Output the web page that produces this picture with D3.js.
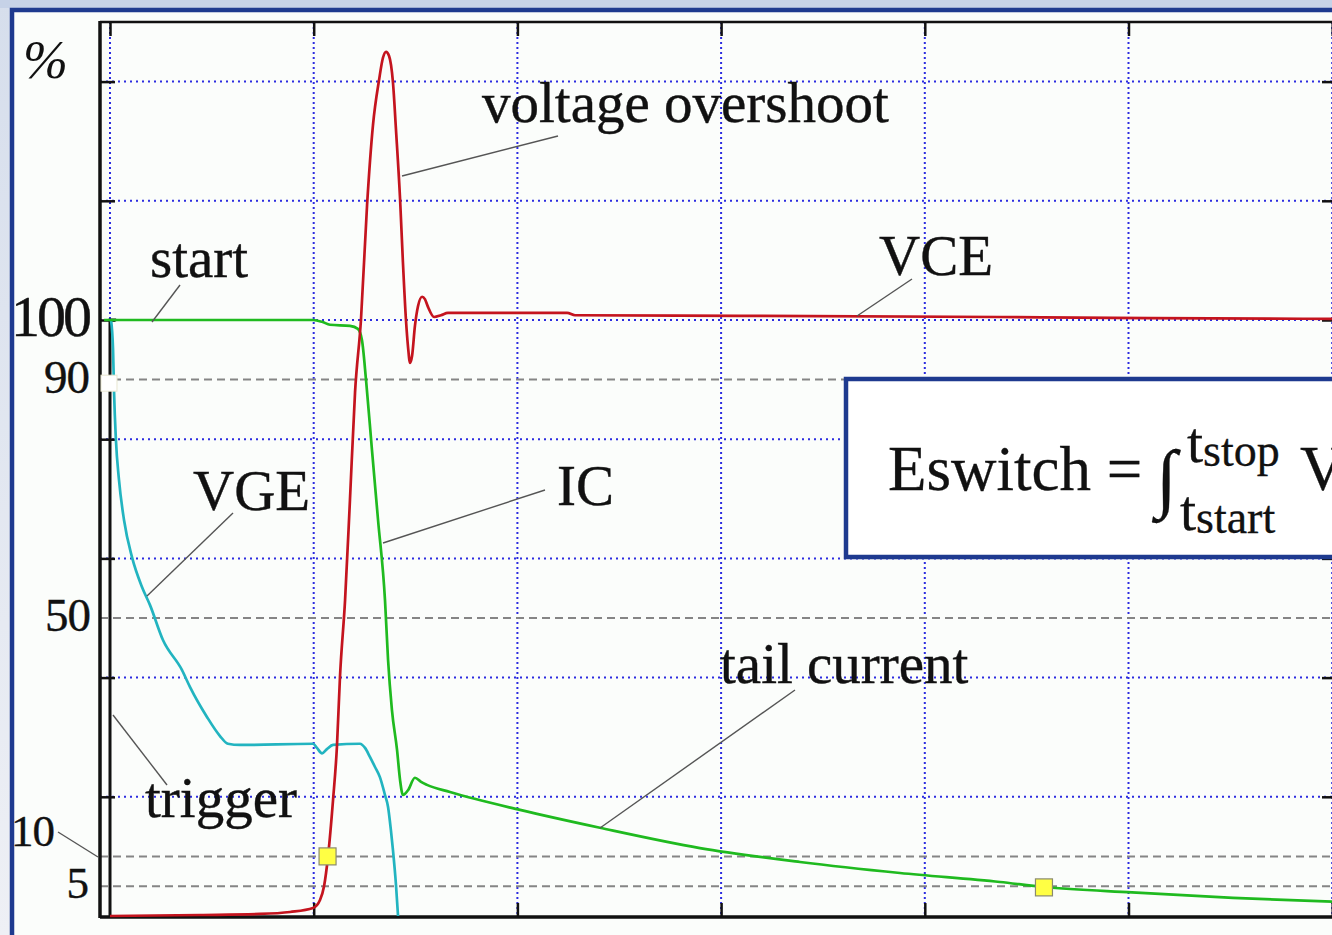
<!DOCTYPE html>
<html><head><meta charset="utf-8">
<script src="https://cdn.jsdelivr.net/npm/d3@7"></script>
<style>html,body{margin:0;padding:0;overflow:hidden;background:#e1e6f0}svg{display:block}</style>
</head><body><svg id="c" width="1332" height="935"></svg>
<script>
// ---------- data ----------
const gridTimes = [0, 1, 2, 3, 4, 5, 6];
const gridLevels = [20, 40, 60, 80, 100, 120, 140];
const refLevels = [90, 50, 10, 5];
const yTickValues = [100, 90, 50, 10, 5];
const yTickLabels = ["100", "90", "50", "10", "5"];

const vceTime  = [0, 0.442, 0.736, 0.884, 0.997, 1.031, 1.051, 1.070, 1.095, 1.114, 1.129, 1.154, 1.178, 1.203, 1.232, 1.262, 1.291, 1.321, 1.340, 1.355, 1.370, 1.389, 1.404, 1.424, 1.438, 1.453, 1.463, 1.473, 1.483, 1.497, 1.512, 1.532, 1.546, 1.561, 1.591, 1.625, 1.659, 2.244, 2.283, 3.093, 4.369, 5.106, 6.038];
const vceValue = [0, 0.17, 0.34, 0.67, 1.34, 2.68, 5.03, 9.9, 19.5, 28.4, 40.1, 53.0, 69.8, 87.9, 100.0, 119.3, 132.7, 140.3, 144.0, 145.0, 144.3, 139.9, 131.9, 120.3, 109.7, 100.0, 95.5, 92.8, 94.0, 99.0, 102.3, 103.9, 103.5, 102.2, 100.5, 100.8, 101.2, 101.2, 100.8, 100.7, 100.5, 100.3, 100.2];

const icTime  = [-0.029, 0.997, 1.041, 1.080, 1.178, 1.217, 1.237, 1.257, 1.286, 1.316, 1.350, 1.365, 1.384, 1.409, 1.424, 1.438, 1.463, 1.497, 1.527, 1.556, 1.669, 2.013, 2.405, 2.896, 3.387, 3.878, 4.369, 4.585, 5.017, 5.513, 6.038];
const icValue = [100, 100, 99.7, 99.2, 99.0, 98.5, 96.6, 89.9, 78.2, 66.4, 53.0, 43.0, 34.6, 27.9, 22.8, 20.3, 21.1, 23.2, 22.5, 22.0, 20.8, 17.8, 14.8, 11.4, 9.06, 7.21, 5.70, 4.87, 3.95, 3.05, 2.35];

const vgeTime  = [0.005, 0.015, 0.020, 0.029, 0.044, 0.069, 0.108, 0.157, 0.196, 0.260, 0.353, 0.393, 0.476, 0.540, 0.579, 0.638, 0.997, 1.016, 1.041, 1.065, 1.095, 1.227, 1.252, 1.276, 1.301, 1.325, 1.350, 1.365, 1.379, 1.389, 1.404, 1.414];
const vgeValue = [100, 95.0, 87.8, 79.9, 73.2, 66.4, 60.2, 55.2, 52.2, 46.3, 41.3, 38.4, 33.4, 30.2, 28.9, 28.7, 28.9, 28.2, 27.3, 28.0, 28.7, 28.9, 28.2, 26.7, 25.0, 23.3, 20.3, 18.3, 14.4, 11.1, 5.2, 0];

const triggerTime  = [0, 0, 0.03];
const triggerValue = [0, 100, 100];

const markerTime  = [1.068, 4.585];
const markerValue = [10, 4.8];
const startMarkerTime = [-0.005];
const startMarkerValue = [89.4];

const annotationTexts = ["start", "voltage overshoot", "VCE", "VGE", "IC", "tail current", "trigger"];

// ---------- drawing ----------
const svg = d3.select("#c");
const W = 1332, H = 935;
const FONT = "'Liberation Serif','Times New Roman',serif";

// background & frame
const defs = svg.append("defs");
const lg = defs.append("linearGradient").attr("id", "bg").attr("x1", 0).attr("y1", 0).attr("x2", 0).attr("y2", 1);
lg.append("stop").attr("offset", 0).attr("stop-color", "#d6deec");
lg.append("stop").attr("offset", 1).attr("stop-color", "#eef0f5");
svg.append("rect").attr("width", W).attr("height", H).attr("fill", "url(#bg)");
svg.append("rect").attr("width", W).attr("height", 8).attr("fill", "#c6d2e7");
svg.append("rect").attr("x", 12).attr("y", 10).attr("width", 1500).attr("height", 1200)
  .attr("fill", "#fbfdfb").attr("stroke", "#1e3a8f").attr("stroke-width", 4.5);

const x = d3.scaleLinear().domain([0, 6]).range([110, 110 + 6 * 203.7]);
const y = d3.scaleLinear().domain([0, 150]).range([916, 22]);
const xLeft = 100, xRight = 1337, yTop = 22, yBot = 917;

// grid
const grid = svg.append("g");
grid.selectAll(".hg").data(gridLevels).join("line")
  .attr("x1", xLeft).attr("x2", xRight).attr("y1", d => y(d)).attr("y2", d => y(d))
  .attr("stroke", "#2c2ce0").attr("stroke-width", 2).attr("stroke-dasharray", "2,4");
grid.selectAll(".vg").data(gridTimes).join("line")
  .attr("x1", d => x(d)).attr("x2", d => x(d)).attr("y1", yTop).attr("y2", yBot)
  .attr("stroke", "#2c2ce0").attr("stroke-width", 2).attr("stroke-dasharray", "2,3");
grid.selectAll(".rg").data(refLevels).join("line")
  .attr("x1", xLeft).attr("x2", xRight).attr("y1", d => y(d)).attr("y2", d => y(d))
  .attr("stroke", "#858585").attr("stroke-width", 2).attr("stroke-dasharray", "8,5");

// axes
const axStyle = g => { g.selectAll("path,line").attr("stroke", "#111"); g.selectAll("text").remove(); g.select(".domain").remove(); };
svg.append("g").attr("transform", `translate(0,${yTop})`)
  .call(d3.axisBottom(x).tickValues(gridTimes).tickSize(14).tickSizeOuter(0))
  .call(axStyle).call(g => g.selectAll("line").attr("stroke-width", 2.5));
svg.append("g").attr("transform", `translate(0,${yBot})`)
  .call(d3.axisTop(x).tickValues(gridTimes.slice(1)).tickSize(14).tickSizeOuter(0))
  .call(axStyle).call(g => g.selectAll("line").attr("stroke-width", 2.5));
svg.append("g").attr("transform", `translate(${xLeft},0)`)
  .call(d3.axisRight(y).tickValues(gridLevels).tickSize(15).tickSizeOuter(0))
  .call(axStyle).call(g => g.selectAll("line").attr("stroke-width", 2.5));
svg.append("g").attr("transform", `translate(${xRight},0)`)
  .call(d3.axisLeft(y).tickValues(gridLevels).tickSize(15).tickSizeOuter(0))
  .call(axStyle).call(g => g.selectAll("line").attr("stroke-width", 2.5));
svg.append("line").attr("x1", xLeft).attr("x2", W).attr("y1", yTop).attr("y2", yTop).attr("stroke", "#111").attr("stroke-width", 2.5);
svg.append("line").attr("x1", xLeft).attr("x2", W).attr("y1", yBot).attr("y2", yBot).attr("stroke", "#111").attr("stroke-width", 3.5);
svg.append("line").attr("x1", xLeft).attr("x2", xLeft).attr("y1", yTop - 1).attr("y2", yBot + 1).attr("stroke", "#111").attr("stroke-width", 3.5);

// y tick labels
const tickFont = [58, 47, 47, 45, 45];
const tickX = [89, 89, 90, 54, 88];
const tickDy = [16, 13, 13, -10, 12];
svg.append("g").selectAll("text").data(yTickValues).join("text")
  .attr("x", (d, i) => tickX[i]).attr("y", (d, i) => y(d) + tickDy[i])
  .attr("text-anchor", "end").attr("font-family", FONT).attr("font-size", (d, i) => tickFont[i])
  .attr("fill", "#111").attr("stroke", "#111").attr("stroke-width", 0.4)
  .attr("letter-spacing", (d, i) => i === 0 ? -3 : -1)
  .text((d, i) => yTickLabels[i]);
svg.append("text").attr("x", 23).attr("y", 78).attr("font-family", FONT).attr("font-size", 54)
  .attr("font-style", "italic").attr("fill", "#111").text("%");

// series
const line = d3.line().x(d => x(d[0])).y(d => y(d[1])).curve(d3.curveMonotoneX);
const zip = (a, b) => a.map((t, i) => [t, b[i]]);
const plot = svg.append("g");
plot.append("path").datum(zip(triggerTime, triggerValue))
  .attr("d", d3.line().x(d => x(d[0])).y(d => y(d[1]))).attr("fill", "none").attr("stroke", "#111").attr("stroke-width", 3);
plot.append("path").datum(zip(vgeTime, vgeValue)).attr("d", line)
  .attr("fill", "none").attr("stroke", "#22b4c0").attr("stroke-width", 2.7);
plot.append("path").datum(zip(icTime, icValue)).attr("d", line)
  .attr("fill", "none").attr("stroke", "#1fba1f").attr("stroke-width", 2.7);
plot.append("path").datum(zip(vceTime, vceValue)).attr("d", line)
  .attr("fill", "none").attr("stroke", "#c4141e").attr("stroke-width", 2.7);

// markers
plot.selectAll(".mk").data(zip(markerTime, markerValue)).join("rect")
  .attr("x", d => x(d[0]) - 8.5).attr("y", d => y(d[1]) - 8.5).attr("width", 17).attr("height", 17)
  .attr("fill", "#ffff44").attr("stroke", "#8a8a70").attr("stroke-width", 1.2);
plot.selectAll(".wm").data(zip(startMarkerTime, startMarkerValue)).join("rect")
  .attr("x", d => x(d[0]) - 8).attr("y", d => y(d[1]) - 8).attr("width", 16).attr("height", 16)
  .attr("fill", "#ffffff").attr("stroke", "#e8e6d0").attr("stroke-width", 1);

// annotations (text from data; layout here)
const annPos = [[150, 277], [482, 122], [879, 275], [193, 510], [557, 505], [720, 683], [145, 817]];
const leaders = [[180, 285, 152, 322], [558, 136, 402, 176], [912, 279, 857, 316], [233, 513, 147, 596],
  [545, 490, 383, 543], [795, 690, 600, 828], [167, 785, 113, 715], [58, 832, 98, 857]];
const ann = svg.append("g");
ann.selectAll("line").data(leaders).join("line")
  .attr("x1", d => d[0]).attr("y1", d => d[1]).attr("x2", d => d[2]).attr("y2", d => d[3])
  .attr("stroke", "#555").attr("stroke-width", 1.4);
ann.selectAll("text").data(annotationTexts).join("text")
  .attr("x", (d, i) => annPos[i][0]).attr("y", (d, i) => annPos[i][1])
  .attr("font-family", FONT).attr("font-size", 57).attr("fill", "#111")
  .attr("stroke", "#111").attr("stroke-width", 0.4).text(d => d);

// formula box
const fb = svg.append("g");
fb.append("rect").attr("x", 846).attr("y", 379).attr("width", 600).attr("height", 178)
  .attr("fill", "#ffffff").attr("stroke", "#1e3a8f").attr("stroke-width", 4.5);
const ft = (tx, ty, size, s) => fb.append("text").attr("x", tx).attr("y", ty).attr("font-family", FONT)
  .attr("font-size", size).attr("fill", "#111").attr("stroke", "#111").attr("stroke-width", 0.3).text(s);
ft(888, 490, 63, "Eswitch = ");
ft(1156, 503, 76, "∫");
ft(1187, 462, 58, "t");
ft(1203, 466, 46, "stop");
ft(1180, 530, 58, "t");
ft(1196, 533, 46, "start");
ft(1300, 490, 63, "V");
</script></body></html>
